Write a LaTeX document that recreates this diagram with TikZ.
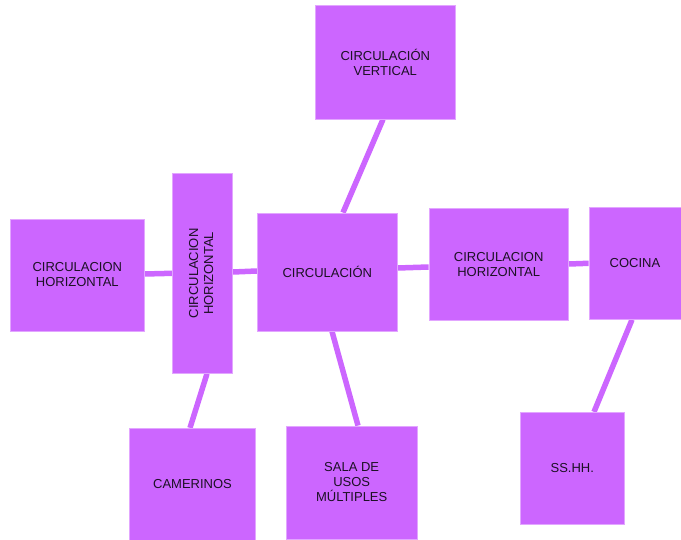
\documentclass[tikz,border=0pt]{standalone}
\usepackage{fontspec}
\setmainfont{Liberation Sans}
\usepackage{graphicx}
\usetikzlibrary{backgrounds}
\definecolor{lila}{HTML}{CC66FF}
\definecolor{lilaborde}{HTML}{E2A6FF}
\definecolor{tinta}{HTML}{1C1024}
\tikzset{
    every node/.style={font=\fontsize{13}{15}\selectfont},
    zona/.style={rectangle,draw=lilaborde,line width=0.8pt,fill=lila,text=tinta,inner sep=0pt,align=center},
    enlace/.style={draw=lila,line width=5.5pt}
}

\begin{document}
\begin{tikzpicture}[x=1pt,y=-1pt]
    \useasboundingbox (0,0) rectangle (681,540);
    \node[zona,minimum width=140,minimum height=118] (circ) at (327.3,272) {CIRCULACIÓN};
    \node[zona,minimum width=140.7,minimum height=114] (vert) at (385.3,62) {CIRCULACIÓN\\VERTICAL};
    \node[zona,minimum width=133.3,minimum height=112] (horizA) at (77.3,275) {CIRCULACION\\HORIZONTAL};
    \node[zona,minimum width=60,minimum height=200] (horizB) at (202.7,273.3)
        {\rotatebox{90}{\begin{tabular}{@{}c@{}}CIRCULACION\\HORIZONTAL\end{tabular}}};
    \node[zona,minimum width=139.3,minimum height=112.4] (horizC) at (498.7,264.5) {CIRCULACION\\HORIZONTAL};
    \node[zona,minimum width=92,minimum height=112] (cocina) at (635,263.3) {COCINA};
    \node[zona,minimum width=126.4,minimum height=112] (camer) at (192.5,484.3) {CAMERINOS};
    \node[zona,minimum width=131.3,minimum height=113] (sala) at (351.7,482.5) {SALA DE\\USOS\\MÚLTIPLES};
    \node[zona,minimum width=103.3,minimum height=112] (sshh) at (572.3,468.3) {SS.HH.};
    % conexiones
    \begin{scope}[on background layer]
        \draw[enlace] ([xshift=15.7pt]circ.north)--([xshift=-2.3pt]vert.south);
        \draw[enlace] ([yshift=1pt]horizA.east)--(horizB.west);
        \draw[enlace] ([yshift=1.3pt]horizB.east)--([yshift=1pt]circ.west);
        \draw[enlace] ([yshift=4pt]circ.east)--([yshift=-2.5pt]horizC.west);
        \draw[enlace] ([yshift=0.5pt]horizC.east)--(cocina.west);
        \draw[enlace] ([xshift=4.3pt]horizB.south)--([xshift=-2.5pt]camer.north);
        \draw[enlace] ([xshift=4.7pt]circ.south)--([xshift=6.3pt]sala.north);
        \draw[enlace] ([xshift=-3pt]cocina.south)--([xshift=21.7pt]sshh.north);
    \end{scope}
\end{tikzpicture}
\end{document}
